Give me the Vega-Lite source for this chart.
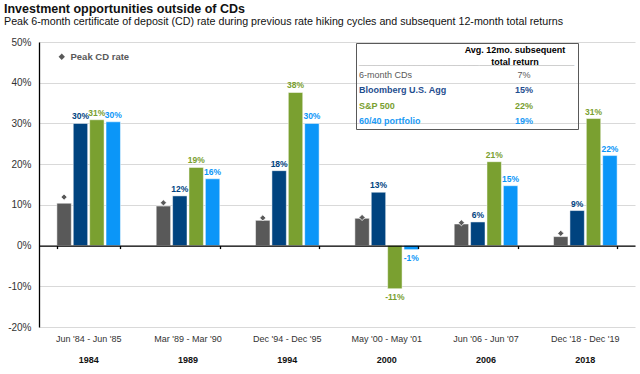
{
  "$schema": "https://vega.github.io/schema/vega-lite/v6.json",
  "width": 596,
  "height": 285,
  "autosize": {"type": "none"},
  "padding": {"left": 39, "top": 42, "right": 5, "bottom": 47},
  "background": "white",
  "title": {
    "text": "Investment opportunities outside of CDs",
    "subtitle": "Peak 6-month certificate of deposit (CD) rate during previous rate hiking cycles and subsequent 12-month total returns",
    "anchor": "start",
    "frame": "group",
    "dx": -35,
    "offset": 10,
    "fontSize": 12.5,
    "fontWeight": "bold",
    "color": "#111111",
    "subtitleFontSize": 10.7,
    "subtitleColor": "#111111",
    "subtitlePadding": 2
  },
  "datasets": {
    "bars": [
      {"year": "1984", "series": "6-month CDs", "v": 0.104, "avg": "7%"},
      {"year": "1984", "series": "Bloomberg U.S. Agg", "v": 0.300, "avg": "15%"},
      {"year": "1984", "series": "S&P 500", "v": 0.309, "avg": "22%"},
      {"year": "1984", "series": "60/40 portfolio", "v": 0.304, "avg": "19%"},
      {"year": "1989", "series": "6-month CDs", "v": 0.097, "avg": "7%"},
      {"year": "1989", "series": "Bloomberg U.S. Agg", "v": 0.122, "avg": "15%"},
      {"year": "1989", "series": "S&P 500", "v": 0.192, "avg": "22%"},
      {"year": "1989", "series": "60/40 portfolio", "v": 0.164, "avg": "19%"},
      {"year": "1994", "series": "6-month CDs", "v": 0.062, "avg": "7%"},
      {"year": "1994", "series": "Bloomberg U.S. Agg", "v": 0.184, "avg": "15%"},
      {"year": "1994", "series": "S&P 500", "v": 0.376, "avg": "22%"},
      {"year": "1994", "series": "60/40 portfolio", "v": 0.300, "avg": "19%"},
      {"year": "2000", "series": "6-month CDs", "v": 0.067, "avg": "7%"},
      {"year": "2000", "series": "Bloomberg U.S. Agg", "v": 0.131, "avg": "15%"},
      {"year": "2000", "series": "S&P 500", "v": -0.106, "avg": "22%"},
      {"year": "2000", "series": "60/40 portfolio", "v": -0.010, "avg": "19%"},
      {"year": "2006", "series": "6-month CDs", "v": 0.053, "avg": "7%"},
      {"year": "2006", "series": "Bloomberg U.S. Agg", "v": 0.058, "avg": "15%"},
      {"year": "2006", "series": "S&P 500", "v": 0.206, "avg": "22%"},
      {"year": "2006", "series": "60/40 portfolio", "v": 0.147, "avg": "19%"},
      {"year": "2018", "series": "6-month CDs", "v": 0.022, "avg": "7%"},
      {"year": "2018", "series": "Bloomberg U.S. Agg", "v": 0.086, "avg": "15%"},
      {"year": "2018", "series": "S&P 500", "v": 0.312, "avg": "22%"},
      {"year": "2018", "series": "60/40 portfolio", "v": 0.221, "avg": "19%"}
    ],
    "peaks": [
      {"year": "1984", "peak": 0.119},
      {"year": "1989", "peak": 0.105},
      {"year": "1994", "peak": 0.068},
      {"year": "2000", "peak": 0.069},
      {"year": "2006", "peak": 0.056},
      {"year": "2018", "peak": 0.030}
    ]
  },
  "layer": [
    {
      "data": {"name": "bars"},
      "mark": {"type": "bar", "stroke": "#ffffff", "strokeWidth": 0.5},
      "encoding": {
        "x": {
          "field": "year", "type": "nominal",
          "scale": {"paddingInner": 0.36, "paddingOuter": 0.18},
          "axis": {"orient": "bottom", "offset": -81.43, "title": null, "labels": false, "domain": true, "domainColor": "#000000", "domainWidth": 1.3, "ticks": true, "tickBand": "extent", "tickSize": 3, "tickColor": "#000000", "tickWidth": 1.3, "grid": false, "zindex": 1}
        },
        "xOffset": {
          "field": "series", "type": "nominal",
          "scale": {"domain": ["6-month CDs", "Bloomberg U.S. Agg", "S&P 500", "60/40 portfolio"], "paddingInner": 0.12, "paddingOuter": 0}
        },
        "y": {
          "field": "v", "type": "quantitative",
          "scale": {"domain": [-0.2, 0.5], "nice": false},
          "axis": {"values": [-0.2, -0.1, 0, 0.1, 0.2, 0.3, 0.4, 0.5], "format": ".0%", "title": null, "grid": true, "gridColor": "#d9d9d9", "gridWidth": 1, "domain": true, "domainColor": "#000000", "domainWidth": 1.3, "ticks": false, "tickSize": 0, "labelPadding": 8, "labelFontSize": 10, "labelColor": "#333333"}
        },
        "color": {
          "field": "series", "type": "nominal",
          "scale": {"domain": ["6-month CDs", "Bloomberg U.S. Agg", "S&P 500", "60/40 portfolio"], "range": ["#595959", "#00437f", "#7aa030", "#0b96f8"]},
          "legend": {
            "orient": "none", "legendX": 317, "legendY": 1,
            "title": [" ", "___________________________________________"], "titleFontSize": 9, "titleFontWeight": "bold", "titleColor": "#7f7f7f", "titleLineHeight": 12, "titlePadding": 3, "titleLimit": 400,
            "padding": 3, "strokeColor": "#595959",
            "symbolSize": 0.01, "symbolOpacity": 0, "symbolStrokeWidth": 0, "labelOffset": -9,
            "labelFontSize": 9, "labelLimit": 400, "rowPadding": 5.5,
            "labelColor": {"expr": "datum.value == '6-month CDs' ? '#595959' : datum.value == 'Bloomberg U.S. Agg' ? '#1f4e8f' : datum.value == 'S&P 500' ? '#7aa030' : '#1a9af5'"},
            "labelFontWeight": {"expr": "datum.value == '6-month CDs' ? 'normal' : 'bold'"}
          }
        },
        "opacity": {
          "field": "avg", "type": "ordinal",
          "scale": {"domain": ["7%", "15%", "22%", "19%"], "range": [1, 1]},
          "legend": {
            "orient": "none", "legendX": 423, "legendY": 1,
            "title": ["Avg. 12mo. subsequent", "total return"], "titleFontSize": 9, "titleFontWeight": "bold", "titleColor": "#000000", "titleLineHeight": 12, "titlePadding": 3, "titleAlign": "center", "titleAnchor": "middle",
            "padding": 3,
            "symbolSize": 0.01, "symbolOpacity": 0, "symbolStrokeWidth": 0,
            "labelOffset": 18, "labelAlign": "center", "labelFontSize": 9, "rowPadding": 5.5,
            "labelColor": {"expr": "datum.value == '7%' ? '#595959' : datum.value == '15%' ? '#1f4e8f' : datum.value == '22%' ? '#7aa030' : '#1a9af5'"},
            "labelFontWeight": {"expr": "datum.value == '7%' ? 'normal' : 'bold'"}
          }
        }
      }
    },
    {
      "data": {"name": "peaks"},
      "mark": {"type": "point", "shape": "diamond", "filled": true, "size": 38, "fill": "#595959", "stroke": "#ffffff", "strokeWidth": 0.8, "opacity": 1},
      "encoding": {
        "x": {
          "field": "year", "type": "nominal",
          "axis": {"orient": "bottom", "title": null, "domain": false, "ticks": false, "tickSize": 0, "grid": false, "labelAngle": 0, "labelAlign": "center", "labelBaseline": "top", "labelPadding": 7, "labelFontSize": 9, "labelColor": "#333333",
            "labelExpr": "datum.label == '1984' ? \"Jun '84 - Jun '85\" : datum.label == '1989' ? \"Mar '89 - Mar '90\" : datum.label == '1994' ? \"Dec '94 - Dec '95\" : datum.label == '2000' ? \"May '00 - May '01\" : datum.label == '2006' ? \"Jun '06 - Jun '07\" : \"Dec '18 - Dec '19\""}
        },
        "xOffset": {"datum": "6-month CDs"},
        "y": {"field": "peak", "type": "quantitative"},
        "shape": {
          "datum": "Peak CD rate",
          "scale": {"range": ["diamond"]},
          "legend": {"orient": "none", "legendX": 18, "legendY": 10, "title": null, "padding": 0, "symbolSize": 40, "symbolFillColor": "#595959", "symbolStrokeColor": "#ffffff", "symbolStrokeWidth": 0.5, "labelFontSize": 9.5, "labelFontWeight": "bold", "labelColor": "#595959", "labelOffset": 4}
        }
      }
    },
    {
      "data": {"name": "bars"},
      "transform": [{"filter": "datum.series != '6-month CDs' && datum.v >= 0"}],
      "mark": {"type": "text", "baseline": "bottom", "dy": -2, "fontSize": 8.5, "fontWeight": "bold"},
      "encoding": {
        "x": {
          "field": "year", "type": "nominal",
          "axis": {"orient": "bottom", "title": null, "domain": false, "ticks": false, "tickSize": 0, "grid": false, "labelAngle": 0, "labelAlign": "center", "labelBaseline": "top", "labelPadding": 28, "labelFontSize": 9, "labelFontWeight": "bold", "labelColor": "#111111"}
        },
        "xOffset": {"field": "series", "type": "nominal"},
        "y": {"field": "v", "type": "quantitative"},
        "text": {"field": "v", "type": "quantitative", "format": ".0%"},
        "color": {"field": "series", "type": "nominal"}
      }
    },
    {
      "data": {"name": "bars"},
      "transform": [{"filter": "datum.series != '6-month CDs' && datum.v < 0"}],
      "mark": {"type": "text", "baseline": "top", "dy": 4, "fontSize": 8.5, "fontWeight": "bold"},
      "encoding": {
        "x": {"field": "year", "type": "nominal", "axis": null},
        "xOffset": {"field": "series", "type": "nominal"},
        "y": {"field": "v", "type": "quantitative"},
        "text": {"field": "v", "type": "quantitative", "format": ".0%"},
        "color": {"field": "series", "type": "nominal"}
      }
    }
  ],
  "resolve": {"axis": {"x": "independent"}},
  "config": {
    "font": "Liberation Sans",
    "view": {"stroke": null},
    "locale": {"number": {"decimal": ".", "thousands": ",", "grouping": [3], "currency": ["$", ""], "minus": "-"}}
  }
}
